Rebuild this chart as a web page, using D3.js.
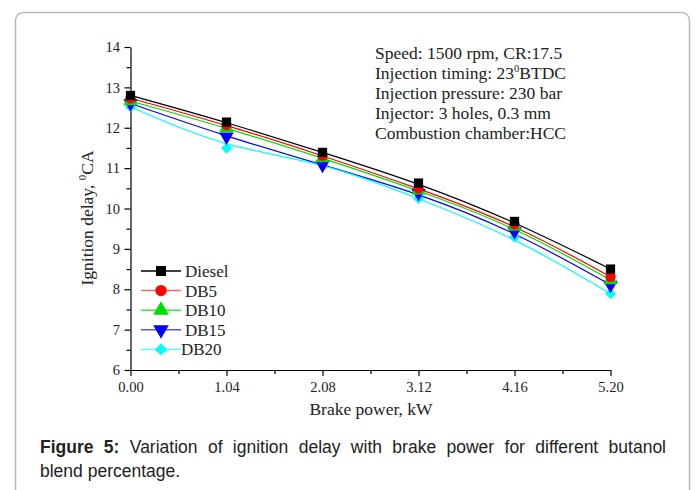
<!DOCTYPE html>
<html>
<head>
<meta charset="utf-8">
<script src="https://cdn.jsdelivr.net/npm/d3@7"></script>
<style>
  body { margin: 0; background: #fff; }
  svg { display: block; }
</style>
</head>
<body>
<div class="chart"></div>
<script>
var w = 696;
var h = 490;

// Data
var power = [0.00, 1.04, 2.08, 3.12, 4.16, 5.20];
var diesel = [12.80, 12.14, 11.39, 10.63, 9.68, 8.50];
var db5 = [12.73, 12.07, 11.31, 10.50, 9.61, 8.31];
var db10 = [12.66, 12.00, 11.25, 10.45, 9.55, 8.23];
var db15 = [12.60, 11.78, 11.08, 10.38, 9.43, 8.11];
var db20 = [12.52, 11.49, 11.16, 10.25, 9.29, 7.89];
var seriesNames = ["Diesel", "DB5", "DB10", "DB15", "DB20"];
var xTicks = [0.00, 1.04, 2.08, 3.12, 4.16, 5.20];
var yTicks = [6, 7, 8, 9, 10, 11, 12, 13, 14];
var notes = ["Speed: 1500 rpm, CR:17.5", "Injection timing: 23", "Injection pressure: 230 bar",
             "Injector: 3 holes, 0.3 mm", "Combustion chamber:HCC"];

var colors = ["#000000", "#ff0000", "#00dd00", "#0000ff", "#00ffff"];
var legendLine = ["#000000", "#ff6666", "#33ee33", "#5555ff", "#55ffff"];
var symbols = [d3.symbolSquare, d3.symbolCircle, d3.symbolTriangle, d3.symbolTriangle, d3.symbolSquare];
var sizes = [85, 85, 90, 90, 60];
var rotations = [0, 0, 0, 180, 45];

var series = [diesel, db5, db10, db15, db20].map(function (vals, i) {
    return { name: seriesNames[i], values: vals.map(function (v, j) { return { x: power[j], y: v }; }) };
});

var svg = d3.select(".chart")
    .append("svg")
    .attr("width", w)
    .attr("height", h);

// Outer frame
svg.append("rect")
    .attr("x", 15.5).attr("y", 12.5)
    .attr("width", 674).attr("height", 500)
    .attr("rx", 8).attr("ry", 8)
    .attr("fill", "none")
    .attr("stroke", "#b8b8b8")
    .attr("stroke-width", 1.5);

var x = d3.scaleLinear().domain([0, 5.2]).range([130.5, 610.5]);
var y = d3.scaleLinear().domain([6, 14]).range([370, 47]);

var serif = "'Liberation Serif', 'Times New Roman', serif";

// Axes
var xAxis = svg.append("g")
    .attr("transform", "translate(0,370)")
    .call(d3.axisBottom(x).tickValues(xTicks).tickFormat(d3.format(".2f")).tickSize(6).tickSizeOuter(0));
svg.append("g")
    .attr("transform", "translate(0,370)")
    .call(d3.axisBottom(x).tickValues([0.52, 1.56, 2.6, 3.64, 4.68]).tickFormat("").tickSize(4).tickSizeOuter(0))
    .select(".domain").remove();

var yAxis = svg.append("g")
    .attr("transform", "translate(130.5,0)")
    .call(d3.axisLeft(y).tickValues(yTicks).tickFormat(d3.format("d")).tickSize(6).tickSizeOuter(0));
svg.append("g")
    .attr("transform", "translate(130.5,0)")
    .call(d3.axisLeft(y).tickValues([6.5, 7.5, 8.5, 9.5, 10.5, 11.5, 12.5, 13.5]).tickFormat("").tickSize(4).tickSizeOuter(0))
    .select(".domain").remove();

svg.selectAll(".tick line, .domain").attr("stroke", "#000").attr("stroke-width", 1.2);
xAxis.selectAll("text").attr("font-family", serif).attr("font-size", 14.5).attr("fill", "#222").attr("dy", "0.9em");
yAxis.selectAll("text").attr("font-family", serif).attr("font-size", 14.5).attr("fill", "#222").attr("dx", "-0.1em");

// Axis titles
svg.append("text")
    .attr("x", 371).attr("y", 415)
    .attr("text-anchor", "middle")
    .attr("font-family", serif).attr("font-size", 17.5).attr("fill", "#222")
    .text("Brake power, kW");

var yTitle = svg.append("text")
    .attr("transform", "translate(93,218) rotate(-90)")
    .attr("text-anchor", "middle")
    .attr("font-family", serif).attr("font-size", 17.5).attr("fill", "#222");
yTitle.append("tspan").text("Ignition delay, ");
yTitle.append("tspan").attr("font-size", 11).attr("dy", -7).text("0");
yTitle.append("tspan").attr("dy", 7).text("CA");

// Lines
var line = d3.line()
    .x(function (d) { return x(d.x); })
    .y(function (d) { return y(d.y); })
    .curve(d3.curveBasis);

series.forEach(function (s, i) {
    svg.append("path")
        .datum(s.values)
        .attr("d", line)
        .attr("fill", "none")
        .attr("stroke", colors[i])
        .attr("stroke-width", 1.2);
});

// Markers (drawn last series first so Diesel sits on top)
series.slice().reverse().forEach(function (s, k) {
    var i = series.length - 1 - k;
    svg.selectAll(null)
        .data(s.values)
        .enter()
        .append("path")
        .attr("d", d3.symbol().type(symbols[i]).size(sizes[i]))
        .attr("transform", function (d) { return "translate(" + x(d.x) + "," + y(d.y) + ") rotate(" + rotations[i] + ")"; })
        .attr("fill", colors[i]);
});

// Legend
var legend = svg.append("g").attr("transform", "translate(141,271)");
series.forEach(function (s, i) {
    var g = legend.append("g").attr("transform", "translate(0," + (i * 19.6) + ")");
    g.append("line").attr("x1", 0).attr("x2", 40).attr("y1", 0).attr("y2", 0)
        .attr("stroke", legendLine[i]).attr("stroke-width", 1.5);
    g.append("path")
        .attr("d", d3.symbol().type(symbols[i]).size(sizes[i] + 15))
        .attr("transform", "translate(20,0) rotate(" + rotations[i] + ")")
        .attr("fill", colors[i]);
    g.append("text")
        .attr("x", i === 4 ? 40 : 44).attr("y", 0).attr("dy", "0.35em")
        .attr("font-family", serif).attr("font-size", 17).attr("fill", "#222")
        .text(s.name);
});

// Test condition notes
var noteG = svg.append("g").attr("transform", "translate(375,59)");
notes.forEach(function (n, i) {
    var t = noteG.append("text")
        .attr("x", 0).attr("y", i * 20)
        .attr("font-family", serif).attr("font-size", 17.5).attr("fill", "#222");
    t.append("tspan").text(n);
    if (i === 1) {
        t.append("tspan").attr("font-size", 10.5).attr("dy", -7).text("0");
        t.append("tspan").attr("dy", 7).text("BTDC");
    }
});

// Caption (first line justified by word spacing)
var sans = "'Liberation Sans', Arial, sans-serif";
var cap1 = svg.append("text")
    .attr("x", 40).attr("y", 453)
    .attr("font-family", sans).attr("font-size", 17.5).attr("fill", "#222");
cap1.append("tspan").attr("font-weight", "bold").text("Figure 5:");
cap1.append("tspan").text(" Variation of ignition delay with brake power for different butanol");
var natural = cap1.node().getComputedTextLength();
var gaps = 11;
cap1.attr("word-spacing", Math.max(0, (626 - natural) / gaps));
svg.append("text")
    .attr("x", 40).attr("y", 477)
    .attr("font-family", sans).attr("font-size", 17.5).attr("fill", "#222")
    .text("blend percentage.");
</script>
</body>
</html>
